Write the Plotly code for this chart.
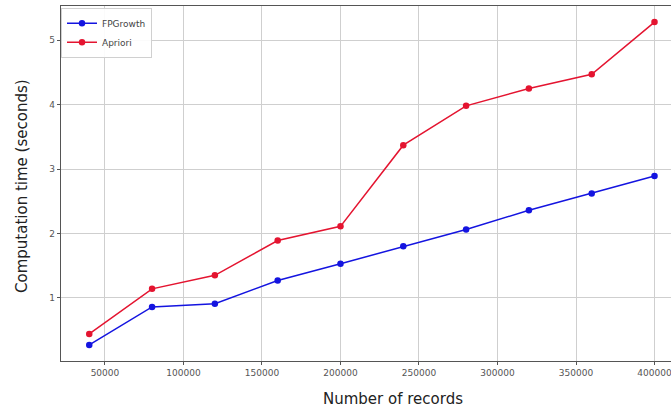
import plotly.graph_objects as go

records = [40000, 80000, 120000, 160000, 200000, 240000, 280000, 320000, 360000, 400000]
fpgrowth = [0.27, 0.86, 0.91, 1.27, 1.53, 1.80, 2.06, 2.36, 2.62, 2.89]
apriori = [0.44, 1.14, 1.35, 1.89, 2.11, 3.37, 3.98, 4.25, 4.47, 5.28]
x_ticks = [50000, 100000, 150000, 200000, 250000, 300000, 350000, 400000]
y_ticks = [1, 2, 3, 4, 5]

fig = go.Figure()
fig.add_trace(go.Scatter(x=records, y=fpgrowth, name="FPGrowth", mode="lines+markers",
                         line=dict(color="#1414e0", width=1.5),
                         marker=dict(color="#1414e0", size=6.5)))
fig.add_trace(go.Scatter(x=records, y=apriori, name="Apriori", mode="lines+markers",
                         line=dict(color="#e41430", width=1.5),
                         marker=dict(color="#e41430", size=6.5)))

axis_common = dict(showline=True, mirror=True, linecolor="#555555", linewidth=1.2,
                   showgrid=True, gridcolor="#cfcfcf", gridwidth=1,
                   ticks="outside", ticklen=3, tickcolor="#555555",
                   tickfont=dict(family="DejaVu Sans", size=9, color="#555555"),
                   zeroline=False, automargin=False, ticklabeloverflow="allow")

fig.update_xaxes(range=[22000, 410500], tickvals=x_ticks,
                 ticktext=[str(v) for v in x_ticks], **axis_common)
fig.update_yaxes(range=[0.02, 5.53], tickvals=y_ticks,
                 ticktext=[str(v) for v in y_ticks], **axis_common)

fig.add_annotation(text="Number of records", xref="paper", yref="paper",
                   x=0.544, y=-0.107, xanchor="center", yanchor="middle",
                   showarrow=False, font=dict(family="DejaVu Sans", size=15, color="#222222"))
fig.add_annotation(text="Computation time (seconds)", xref="paper", yref="paper",
                   x=-0.064, y=0.493, xanchor="center", yanchor="middle", textangle=-90,
                   showarrow=False, font=dict(family="DejaVu Sans", size=15, color="#222222"))

fig.update_layout(
    width=671, height=411,
    margin=dict(l=61, r=0, t=6, b=50),
    paper_bgcolor="white", plot_bgcolor="white",
    showlegend=True,
    legend=dict(x=0.0, y=0.995, xanchor="left", yanchor="top",
                bgcolor="rgba(255,255,255,0.9)", bordercolor="#d0d0d0", borderwidth=1,
                font=dict(family="DejaVu Sans", size=9, color="#444444"),
                itemwidth=30, tracegroupgap=0),
)

fig.write_html("out.html", config={"displayModeBar": False},
               post_script="document.body.style.margin='0';document.body.style.overflow='hidden';")
